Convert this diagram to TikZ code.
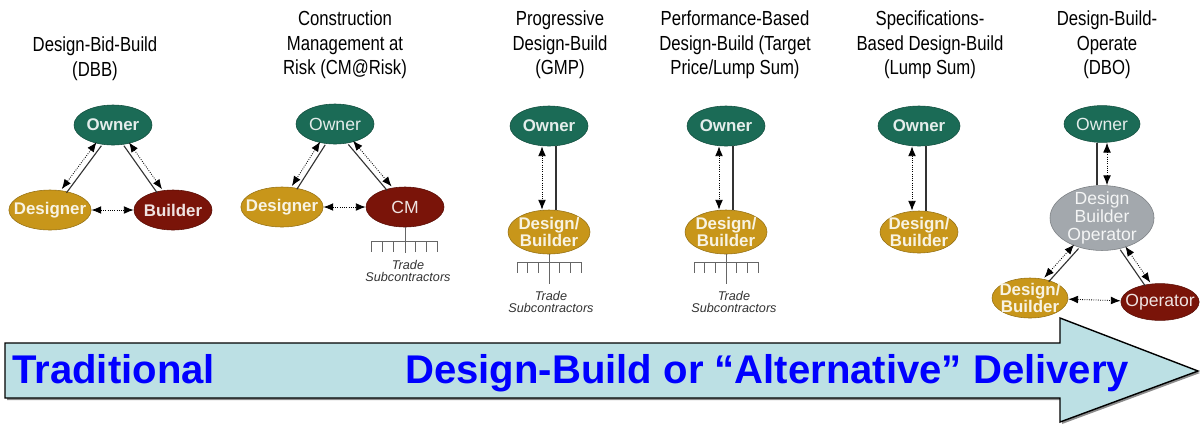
\documentclass[tikz,border=0pt]{standalone}
\usepackage{fontspec}
\setmainfont{Liberation Sans}
\newfontfamily\narrowfont{Liberation Sans}[FakeStretch=0.82]
\usetikzlibrary{shapes.geometric,arrows.meta}

% 颜色
\definecolor{ownerteal}{HTML}{1B6B56}
\definecolor{designgold}{HTML}{C8961A}
\definecolor{builderred}{HTML}{7A1409}
\definecolor{dbogray}{HTML}{A3A8AD}
\definecolor{arrowcyan}{HTML}{BCE0E4}

\tikzset{
  title/.style={font=\narrowfont\fontsize{14.5}{17.5}\selectfont, align=center},
  bubble/.style={ellipse, fill=#1, draw=#1!75!black, text=#1!12!white,
    inner xsep=-5pt, inner ysep=-2pt, minimum width=1.95cm, minimum height=1cm, align=center,
    font=\fontsize{12}{12.5}\selectfont\bfseries},
  plain/.style={font=\fontsize{12.5}{12.5}\selectfont},
  talk/.style={<->, >={Latex[length=7pt,width=5.5pt]}, densely dotted, line width=0.6pt, black},
  tie/.style={black!80, line width=0.8pt},
  tree/.style={black!60, line width=0.5pt},
  sub/.style={font=\fontsize{9}{9}\selectfont\itshape, align=center, text=black!80},
  band/.style={font=\fontsize{28.5}{30}\selectfont\bfseries, text=blue, inner sep=0pt}
}

\begin{document}
\begin{tikzpicture}[x=0.025cm, y=-0.025cm]
    \useasboundingbox (0,0) rectangle (1200,424);

    % 1. 设计-招标-施工
    \node[title] (t1) at (95,59) {Design-Bid-Build\\(DBB)};
    \node[bubble=ownerteal] (owner1) at (113,125) {Owner};
    \node[bubble=designgold] (designer1) at (50,210) {Designer};
    \node[bubble=builderred] (builder1) at (173,210) {Builder};
    \draw[talk, transform canvas={shift={(-2.4,-1.8)}}] (owner1) -- (designer1);
    \draw[tie, transform canvas={shift={(2.4,1.8)}}] (owner1) -- (designer1);
    \draw[talk, transform canvas={shift={(2.5,-1.7)}}] (owner1) -- (builder1);
    \draw[tie, transform canvas={shift={(-2.5,1.7)}}] (owner1) -- (builder1);
    \draw[talk] (designer1) -- (builder1);

    % 2. 风险型施工管理
    \node[title] (t2) at (345,45) {Construction\\Management at\\Risk (CM@Risk)};
    \node[bubble=ownerteal, plain] (owner2) at (335,124) {Owner};
    \node[bubble=designgold] (designer2) at (282,207) {Designer};
    \node[bubble=builderred, plain] (cm2) at (405,207) {CM};
    \draw[talk, transform canvas={shift={(-2.5,-1.6)}}] (owner2) -- (designer2);
    \draw[tie, transform canvas={shift={(2.5,1.6)}}] (owner2) -- (designer2);
    \draw[talk, transform canvas={shift={(2.3,-1.9)}}] (owner2) -- (cm2);
    \draw[tie, transform canvas={shift={(-2.3,1.9)}}] (owner2) -- (cm2);
    \draw[talk] (designer2) -- (cm2);
    % 分包商
    \draw[tree] (cm2.south) -- ++(0,26);
    \draw[tree] (cm2.south) ++(-34,14) -- ++(66,0);
    \foreach \k in {-34,-23,-12,10.7,21.3,32}
        \draw[tree] (cm2.south) ++(\k,14) -- ++(0,11);
    \node[sub] (sub2) at (408,271) {Trade\\Subcontractors};

    % 3. 渐进式设计-施工
    \node[title] (t3) at (560,45) {Progressive\\Design-Build\\(GMP)};
    \node[bubble=ownerteal] (owner3) at (549,126) {Owner};
    \node[bubble=designgold, minimum width=2.05cm, minimum height=1.1cm] (db3) at (549,232) {Design/\\Builder};
    \draw[talk, transform canvas={shift={(-7,0)}}] (owner3) -- (db3);
    \draw[tie, transform canvas={shift={(7,0)}}] (owner3) -- (db3);
    \draw[tree] (db3.south) -- ++(0,30);
    \draw[tree] (db3.south) ++(-32,8) -- ++(64,0);
    \foreach \k in {-32,-21.3,-10.7,10.7,21.3,32}
        \draw[tree] (db3.south) ++(\k,8) -- ++(0,11);
    \node[sub] (sub3) at (551,302) {Trade\\Subcontractors};

    % 4. 基于性能的设计-施工
    \node[title] (t4) at (735,45) {Performance-Based\\Design-Build (Target\\Price/Lump Sum)};
    \node[bubble=ownerteal] (owner4) at (726,126) {Owner};
    \node[bubble=designgold, minimum width=2.05cm, minimum height=1.1cm] (db4) at (726,232) {Design/\\Builder};
    \draw[talk, transform canvas={shift={(-7,0)}}] (owner4) -- (db4);
    \draw[tie, transform canvas={shift={(7,0)}}] (owner4) -- (db4);
    \draw[tree] (db4.south) -- ++(0,30);
    \draw[tree] (db4.south) ++(-32,8) -- ++(64,0);
    \foreach \k in {-32,-21.3,-10.7,10.7,21.3,32}
        \draw[tree] (db4.south) ++(\k,8) -- ++(0,11);
    \node[sub] (sub4) at (734,302) {Trade\\Subcontractors};

    % 5. 基于规范的设计-施工
    \node[title] (t5) at (930,45) {Specifications-\\Based Design-Build\\(Lump Sum)};
    \node[bubble=ownerteal, minimum width=2.05cm] (owner5) at (919,126) {Owner};
    \node[bubble=designgold, minimum height=1.05cm] (db5) at (919,232) {Design/\\Builder};
    \draw[talk, transform canvas={shift={(-7,0)}}] (owner5) -- (db5);
    \draw[tie, transform canvas={shift={(7,0)}}] (owner5) -- (db5);

    % 6. 设计-施工-运营
    \node[title] (t6) at (1107,45) {Design-Build-\\Operate\\(DBO)};
    \node[bubble=ownerteal, plain, minimum width=1.9cm, minimum height=0.92cm] (owner6) at (1102,124) {Owner};
    \node[bubble=dbogray, plain, minimum width=2.6cm, minimum height=1.6cm] (dbo6) at (1102,218) {Design\\Builder\\Operator};
    \node[bubble=designgold, minimum width=1.9cm] (db6) at (1030,298) {Design/\\Builder};
    \node[bubble=builderred, plain, minimum width=1.9cm, minimum height=0.92cm] (operator6) at (1160,302) {Operator};
    \draw[talk, transform canvas={shift={(5,0)}}] (owner6) -- (dbo6);
    \draw[tie, transform canvas={shift={(-5,0)}}] (owner6) -- (dbo6);
    \draw[talk, transform canvas={shift={(-2.2,-2)}}] (dbo6) -- (db6);
    \draw[tie, transform canvas={shift={(2.2,2)}}] (dbo6) -- (db6);
    \draw[talk, transform canvas={shift={(2.5,-1.7)}}] (dbo6) -- (operator6);
    \draw[tie, transform canvas={shift={(-2.5,1.7)}}] (dbo6) -- (operator6);
    \draw[talk] (db6) -- (operator6);

    % 底部大箭头（最后绘制，盖住上方节点）
    \fill[black!45] (7,345) -- (1062,345) -- (1062,320) -- (1200,373) -- (1062,424) -- (1062,400) -- (7,400) -- cycle;
    \draw[fill=arrowcyan, line width=1pt] (5,343) -- (1060,343) -- (1060,318) -- (1198,371)
        -- (1060,422) -- (1060,398) -- (5,398) -- cycle;
    \node[band, anchor=base west] (trad) at (12,383) {Traditional};
    \node[band, anchor=base west] (alt) at (405,383) {Design-Build or “Alternative” Delivery};

\end{tikzpicture}
\end{document}
